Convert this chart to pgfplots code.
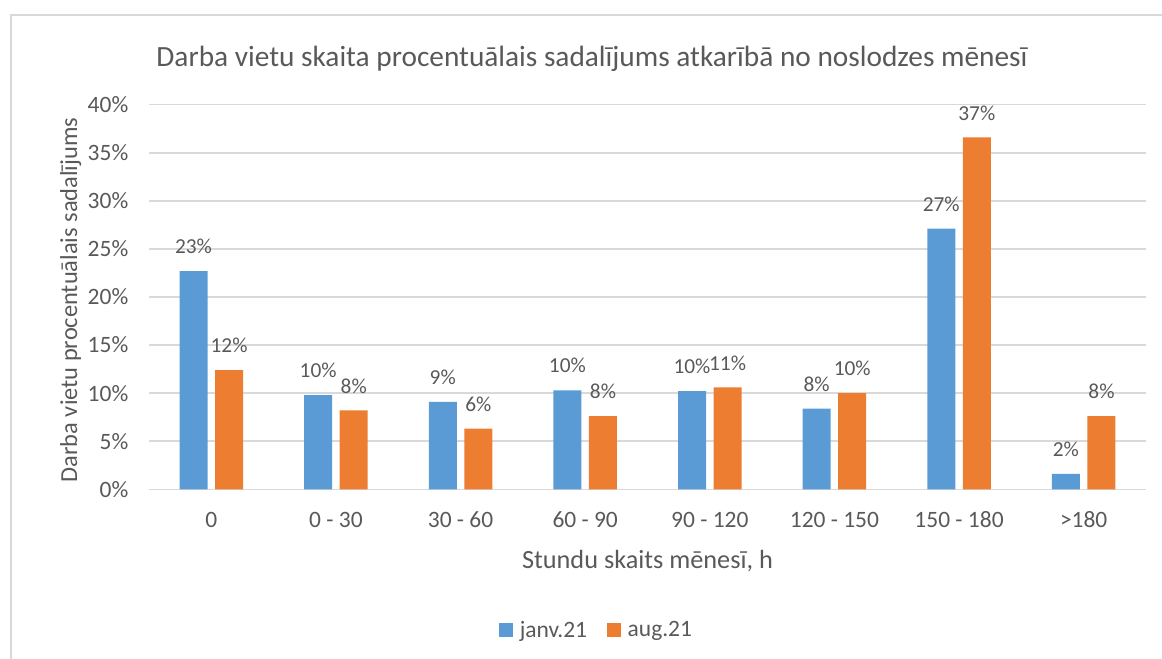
\documentclass[border=0pt]{standalone}
\usepackage{pgfplots}
\pgfplotsset{compat=1.18}
\usepackage{fontspec}
\setmainfont{Carlito}
\definecolor{cblue}{HTML}{5B9BD5}
\definecolor{corange}{HTML}{ED7D31}
\definecolor{ctext}{HTML}{595959}
\definecolor{cgrid}{HTML}{D9D9D9}
\begin{document}
\begin{tikzpicture}[x=0.75pt,y=0.75pt]
\path[use as bounding box] (0,0) rectangle (1162,659);
\coordinate (SW) at (149,169.7);
\draw[cgrid, line width=1.2pt] (11,0) -- (11,644) -- (1162,644);
\node[anchor=base, text=ctext, font=\fontsize{22}{26}\selectfont] at (592,592) {Darba vietu skaita procentuālais sadalījums atkarībā no noslodzes mēnesī};
\node[anchor=base, text=ctext, font=\fontsize{19.7}{23}\selectfont] at (647.5,90) {Stundu skaits mēnesī, h};
\node[anchor=base, rotate=90, text=ctext, font=\fontsize{18.3}{22}\selectfont] at (77,359) {Darba vietu procentuālais sadalījums};
\begin{axis}[
  at={(SW)}, anchor=south west,
  scale only axis, width=747.75pt, height=288.45pt,
  xmin=-0.5, xmax=7.5, ymin=0, ymax=40,
  xtick={0,...,7},
  xticklabels={0, 0 - 30, 30 - 60, 60 - 90, 90 - 120, 120 - 150, 150 - 180, >180},
  ytick={0,5,...,40},
  yticklabel={\pgfmathprintnumber{\tick}\%},
  /pgf/number format/assume math mode=true,
  axis line style={draw=none},
  ymajorgrids, grid style={cgrid, line width=1.1pt},
  major tick length=0pt,
  tick label style={font=\fontsize{17.6}{20}\selectfont, text=ctext},
  yticklabel style={anchor=east, xshift=-12pt},
  xticklabel style={anchor=base, yshift=-28.5pt},
  point meta=y,
  nodes near coords={\pgfmathprintnumber[fixed,precision=0]{\pgfplotspointmeta}\%},
  nodes near coords style={anchor=base, yshift=13pt, text=ctext, font=\fontsize{16}{19}\selectfont, /pgf/number format/assume math mode=true},
  legend columns=2,
  legend style={at={(0.4493,-0.3658)}, anchor=center, draw=none, fill=none,
    font=\fontsize{17.6}{20}\selectfont, text=ctext,
    /tikz/every odd column/.append style={column sep=3pt},
    /tikz/every even column/.append style={column sep=13pt}},
]
\addplot[ybar, bar width=21pt, bar shift=-13.35pt, fill=cblue, draw=none,
  every node near coord/.append style={xshift=-13.35pt},
  legend image code/.code={\fill[cblue] (0pt,-5.25pt) rectangle (10.5pt,5.25pt);}]
  coordinates {(0,22.7) (1,9.8) (2,9.1) (3,10.3) (4,10.2) (5,8.4) (6,27.1) (7,1.6)};
\addlegendentry{janv.21}
\addplot[ybar, bar width=21pt, bar shift=13.35pt, fill=corange, draw=none,
  every node near coord/.append style={xshift=13.35pt},
  legend image code/.code={\fill[corange] (0pt,-5.25pt) rectangle (10.5pt,5.25pt);}]
  coordinates {(0,12.4) (1,8.2) (2,6.3) (3,7.6) (4,10.6) (5,10.0) (6,36.6) (7,7.6)};
\addlegendentry{aug.21}
\end{axis}
\end{tikzpicture}
\end{document}
